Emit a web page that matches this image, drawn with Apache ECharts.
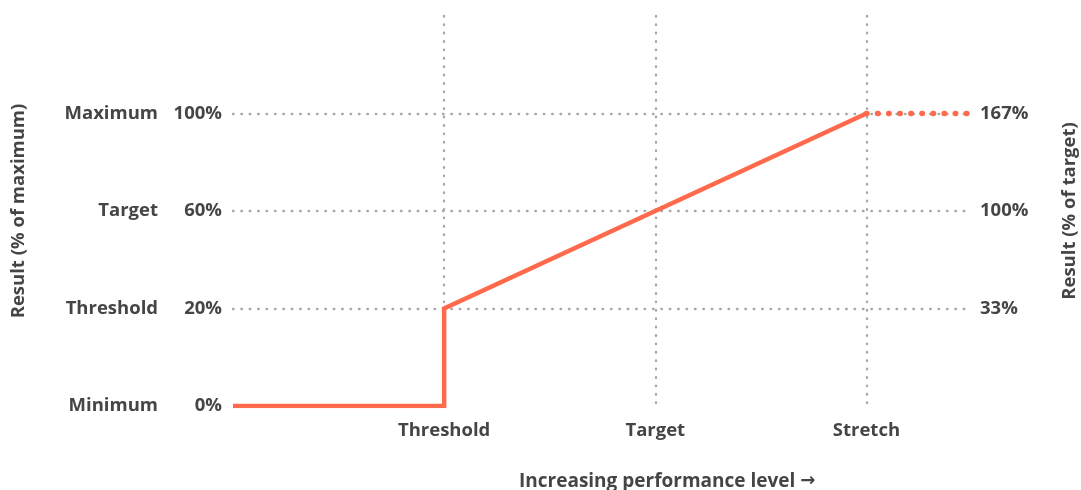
<!DOCTYPE html>
<html><head><meta charset="utf-8">
<script src="https://cdn.jsdelivr.net/npm/echarts@6/dist/echarts.min.js"></script>
<style>html,body{margin:0;padding:0;background:#fff}#c{width:1081px;height:490px}</style>
</head><body><div id="c"></div>
<script>
// Data
const xLevels = ['', 'Threshold', 'Target', 'Stretch'];
const yNames = ['Minimum', 'Threshold', 'Target', 'Maximum'];
const yPctMax = ['0%', '20%', '60%', '100%'];
const yPctTarget = ['', '33%', '100%', '167%'];
const payoutLine = [[0, 0], [1, 0], [1, 1], [3, 3]];
const cappedLine = [[3, 3], [3.5, 3]];

const FONT = 'Open Sans';
const FS = 18.5;
const TXT = '#454545';
const ORANGE = '#FF6A4D';
const grid = {left: 233, right: 109, top: 16, bottom: 84, outerBoundsMode: 'none', containLabel: false};
const dotted = {type: [0.5, 7.9], width: 2.4, cap: 'round', color: '#a8a8a8'};

const chart = echarts.init(document.getElementById('c'));
chart.setOption({
  animation: false,
  grid: grid,
  xAxis: {
    type: 'value', min: 0, max: 3.5, interval: 1,
    axisLine: {show: false}, axisTick: {show: false},
    splitLine: {show: true, showMinLine: false, showMaxLine: false, lineStyle: dotted},
    axisLabel: {
      margin: 15, fontFamily: FONT, fontWeight: 'bold', fontSize: FS, color: TXT,
      formatter: v => (Number.isInteger(v) ? (xLevels[v] || '') : '')
    }
  },
  yAxis: [{
    type: 'value', min: 0, max: 4, interval: 1, position: 'left',
    axisLine: {show: false}, axisTick: {show: false},
    splitLine: {show: true, showMinLine: false, showMaxLine: false, lineStyle: dotted},
    name: 'Result (% of maximum)', nameLocation: 'middle', nameGap: 205,
    nameTextStyle: {fontFamily: FONT, fontWeight: 'bold', fontSize: FS, color: TXT},
    axisLabel: {
      margin: 11, align: 'right',
      formatter: v => (v < 4 ? '{n|' + yNames[v] + '}{p|' + yPctMax[v] + '}' : ''),
      rich: {
        n: {fontFamily: FONT, fontWeight: 'bold', fontSize: FS, color: TXT},
        p: {fontFamily: FONT, fontWeight: 'bold', fontSize: FS, color: TXT, width: 64, align: 'right'}
      }
    }
  }, {
    type: 'value', min: 0, max: 4, interval: 1, position: 'right',
    axisLine: {show: false}, axisTick: {show: false}, splitLine: {show: false},
    name: 'Result (% of target)', nameLocation: 'middle', nameGap: 88, nameRotate: 90,
    nameTextStyle: {fontFamily: FONT, fontWeight: 'bold', fontSize: FS, color: TXT},
    axisLabel: {
      margin: 8, fontFamily: FONT, fontWeight: 'bold', fontSize: FS, color: TXT,
      formatter: v => (v < 4 ? yPctTarget[v] : '')
    }
  }],
  graphic: [{
    type: 'text', left: 519, top: 472,
    style: {
      text: '{t|Increasing performance level }{a|\u2192}',
      rich: {
        t: {fontFamily: FONT, fontWeight: 'bold', fontSize: 19, fill: TXT},
        a: {fontFamily: 'DejaVu Sans', fontWeight: 'bold', fontSize: 18, fill: TXT}
      }
    }
  }],
  series: [{
    type: 'line', data: payoutLine, showSymbol: false, z: 5,
    lineStyle: {color: ORANGE, width: 4.5, join: 'miter'}
  }, {
    type: 'line', data: cappedLine, showSymbol: false, z: 5,
    lineStyle: {color: ORANGE, width: 5.5, type: [0.5, 10.6], cap: 'round'}
  }]
});
</script></body></html>
